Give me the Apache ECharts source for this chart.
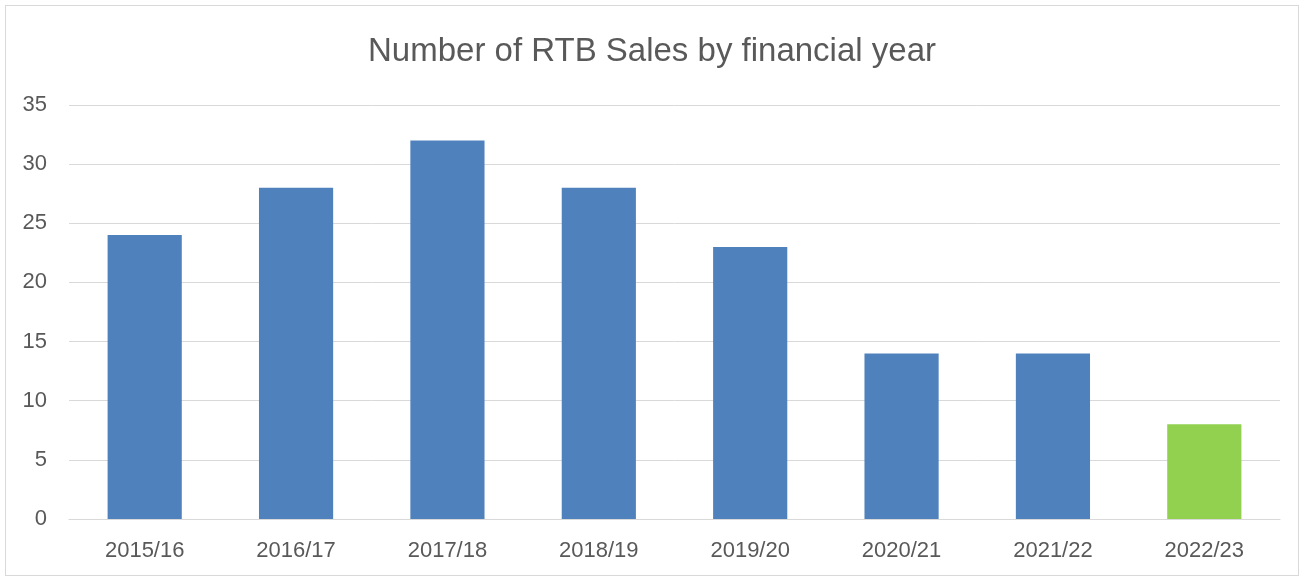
<!DOCTYPE html>
<html>
<head>
<meta charset="utf-8">
<script src="https://cdn.jsdelivr.net/npm/echarts@6/dist/echarts.min.js"></script>
<style>
  html, body { margin: 0; padding: 0; background: #ffffff; }
  #frame { position: absolute; left: 5px; top: 5px; width: 1294px; height: 571px; border: 1px solid #d9d9d9; box-sizing: border-box; }
  #chart { width: 1304px; height: 578px; }
</style>
</head>
<body>
<div id="frame"></div>
<div id="chart"></div>
<script>
// Financial years and RTB sales counts
const years = ['2015/16', '2016/17', '2017/18', '2018/19', '2019/20', '2020/21', '2021/22', '2022/23'];
const sales = [24, 28, 32, 28, 23, 14, 14, 8];
const yTicks = { min: 0, max: 35, interval: 5 };

const BLUE = '#4f81bd';
const GREEN = '#92d050';
const TEXT = '#595959';
const FONT = '"Liberation Sans", Arial, sans-serif';

const chart = echarts.init(document.getElementById('chart'), null, { renderer: 'canvas' });
chart.setOption({
  backgroundColor: 'transparent',
  animation: false,
  title: {
    text: 'Number of RTB Sales by financial year',
    left: 'center',
    top: 30,
    textStyle: { color: TEXT, fontFamily: FONT, fontSize: 33, fontWeight: 'normal' }
  },
  grid: { left: 69, right: 24, top: 105, bottom: 59, containLabel: false },
  xAxis: {
    type: 'category',
    data: years,
    axisLine: { show: true, lineStyle: { color: '#d9d9d9', width: 1 } },
    axisTick: { show: false },
    axisLabel: { color: TEXT, fontFamily: FONT, fontSize: 22, margin: 21 }
  },
  yAxis: {
    type: 'value',
    min: yTicks.min,
    max: yTicks.max,
    interval: yTicks.interval,
    axisLine: { show: false },
    axisTick: { show: false },
    axisLabel: { color: TEXT, fontFamily: FONT, fontSize: 22, margin: 22 },
    splitLine: { lineStyle: { color: '#d9d9d9', width: 1 } }
  },
  series: [{
    type: 'bar',
    data: sales.map((v, i) => ({
      value: v,
      itemStyle: { color: i === sales.length - 1 ? GREEN : BLUE }
    })),
    barWidth: '49%'
  }]
});
</script>
</body>
</html>
